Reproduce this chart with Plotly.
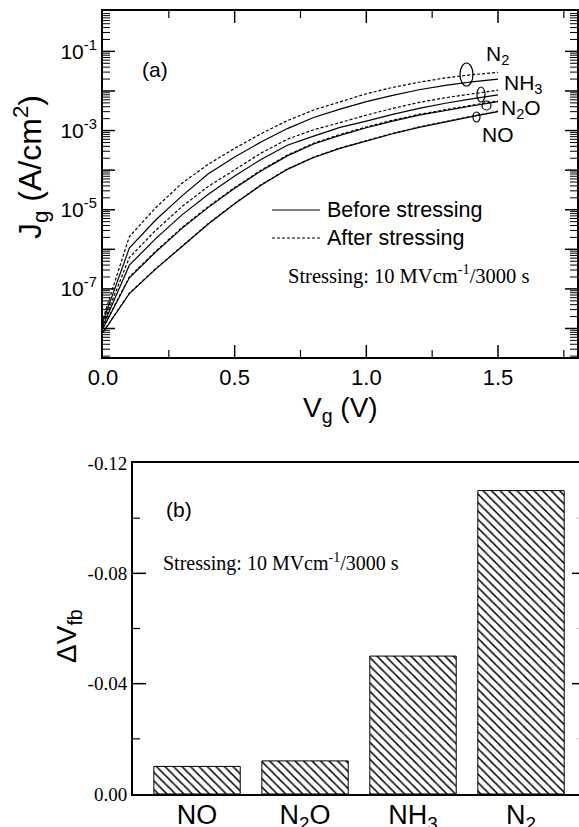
import numpy as np
import plotly.graph_objects as go

W, H = 579, 827

# ---------------- data ----------------
voltage = [0.0, 0.1, 0.2, 0.3, 0.4, 0.5, 0.6, 0.7, 0.8, 0.9, 1.0, 1.1, 1.2, 1.3, 1.4, 1.5]

# log10(Jg)
log_jg_n2_after = [-7.75, -5.68, -4.95, -4.33, -3.85, -3.45, -3.08, -2.75, -2.48, -2.27, -2.07, -1.91, -1.78, -1.67, -1.59, -1.53]
log_jg_n2_before = [-7.82, -5.97, -5.26, -4.65, -4.09, -3.67, -3.29, -2.95, -2.67, -2.46, -2.27, -2.11, -1.97, -1.86, -1.77, -1.70]
log_jg_nh3_after = [-7.88, -6.21, -5.52, -4.92, -4.41, -3.98, -3.57, -3.22, -2.98, -2.80, -2.61, -2.44, -2.29, -2.17, -2.07, -1.98]
log_jg_nh3_before = [-7.93, -6.40, -5.73, -5.13, -4.61, -4.15, -3.73, -3.37, -3.14, -2.92, -2.76, -2.59, -2.44, -2.31, -2.20, -2.10]
log_jg_n2o_after = [-7.98, -6.70, -6.05, -5.45, -4.92, -4.44, -4.00, -3.62, -3.32, -3.10, -2.91, -2.74, -2.59, -2.47, -2.36, -2.25]
log_jg_n2o_before = [-8.00, -6.72, -6.07, -5.47, -4.94, -4.46, -4.02, -3.64, -3.34, -3.12, -2.93, -2.76, -2.61, -2.49, -2.38, -2.27]
log_jg_no_after = [-8.09, -7.11, -6.49, -5.91, -5.35, -4.84, -4.37, -3.97, -3.67, -3.44, -3.25, -3.07, -2.91, -2.77, -2.64, -2.51]
log_jg_no_before = [-8.10, -7.12, -6.50, -5.92, -5.36, -4.85, -4.38, -3.98, -3.68, -3.45, -3.26, -3.08, -2.92, -2.78, -2.65, -2.52]

gases = ["NO", "N<sub>2</sub>O", "NH<sub>3</sub>", "N<sub>2</sub>"]
delta_vfb = [-0.010, -0.012, -0.050, -0.110]

ytick_exponents = [-8, -7, -6, -5, -4, -3, -2, -1, 0]
ytick_labels = ["", "10<sup>-7</sup>", "", "10<sup>-5</sup>", "", "10<sup>-3</sup>", "", "10<sup>-1</sup>", ""]
xtick_vals = [0.0, 0.5, 1.0, 1.5]
xtick_labels = ["0.0", "0.5", "1.0", "1.5"]
x_minor_vals = [0.25, 0.75, 1.25, 1.75]
bar_ytick_vals = [0.0, -0.04, -0.08, -0.12]
bar_ytick_labels = ["0.00", "-0.04", "-0.08", "-0.12"]
bar_minor_vals = [-0.02, -0.06, -0.10]

Y_RANGE_LOG = [-8.72, 0.02]


def X(p):
    return p / W


def Y(p):
    return 1 - p / H


SANS = "Liberation Sans, Arial, sans-serif"
SERIF = "Liberation Serif, Times New Roman, serif"

fig = go.Figure()

curves = [
    (log_jg_n2_after, "dash"), (log_jg_n2_before, "solid"),
    (log_jg_nh3_after, "dash"), (log_jg_nh3_before, "solid"),
    (log_jg_n2o_after, "dash"), (log_jg_n2o_before, "solid"),
    (log_jg_no_after, "dash"), (log_jg_no_before, "solid"),
]
for vals, dash in curves:
    fig.add_trace(go.Scatter(
        x=voltage, y=np.power(10.0, vals), mode="lines",
        line=dict(color="black", width=1.2, dash="3px,2px" if dash == "dash" else "solid"),
        xaxis="x", yaxis="y", showlegend=False, hoverinfo="skip"))

fig.add_trace(go.Bar(
    x=gases, y=delta_vfb, xaxis="x2", yaxis="y2", width=0.8, showlegend=False,
    marker=dict(color="white", line=dict(color="black", width=1),
                pattern=dict(shape="\\", fgcolor="black", bgcolor="white", size=6, solidity=0.25))))

fig.update_layout(
    template="none",
    width=W, height=H, margin=dict(l=0, r=0, t=0, b=0), showlegend=False,
    xaxis=dict(domain=[X(103), X(577)], range=[0, 1.8], anchor="y",
               showline=True, linecolor="black", linewidth=2, mirror=True, ticks="",
               tickmode="array", tickvals=xtick_vals, ticktext=xtick_labels,
               showgrid=False, zeroline=False, automargin=False,
               tickfont=dict(family=SANS, size=22, color="black")),
    yaxis=dict(domain=[Y(357), Y(11)], type="log", range=Y_RANGE_LOG, anchor="x",
               showline=True, linecolor="black", linewidth=2, mirror=True, ticks="",
               tickmode="array", tickvals=[10.0 ** e for e in ytick_exponents], ticktext=ytick_labels,
               showgrid=False, zeroline=False, automargin=False,
               tickfont=dict(family=SANS, size=21, color="black")),
    xaxis2=dict(domain=[X(133), 1.0], type="category", range=[-0.593, 3.537], anchor="y2",
                showline=True, linecolor="black", linewidth=2, mirror=True,
                ticks="", showgrid=False, zeroline=False, automargin=False,
                tickfont=dict(family=SANS, size=27, color="black"), ticklabelstandoff=-4),
    yaxis2=dict(domain=[Y(794), Y(463)], range=[0, -0.12], anchor="x2",
                showline=True, linecolor="black", linewidth=2, ticks="",
                tickmode="array", tickvals=bar_ytick_vals, ticktext=bar_ytick_labels,
                showgrid=False, zeroline=False, automargin=False,
                tickfont=dict(family=SERIF, size=19, color="black")),
)

ann = []


def text(x, y, s, size, family=SANS, xanchor="center", angle=0):
    ann.append(dict(x=X(x), y=Y(y), xref="paper", yref="paper", text=s, showarrow=False,
                    xanchor=xanchor, yanchor="middle", textangle=angle,
                    font=dict(family=family, size=size, color="black")))


text(30, 167, "J<sub>g</sub> (A/cm<sup>2</sup>)", 32, angle=-90)
text(340, 410, "V<sub>g</sub> (V)", 28)
text(155, 69, "(a)", 21)
text(325, 210, "Before stressing", 21.5, xanchor="left")
text(325, 238, "After stressing", 21.5, xanchor="left")
text(286, 275, "Stressing: 10 MVcm<sup>-1</sup>/3000 s", 20.5, family=SERIF, xanchor="left")
text(497, 55, "N<sub>2</sub>", 21)
text(523, 84, "NH<sub>3</sub>", 21)
text(521, 109, "N<sub>2</sub>O", 21)
text(498, 134, "NO", 21)

text(68, 636, "ΔV<sub>fb</sub>", 28, angle=-90)
text(179, 509, "(b)", 21)
text(161, 562, "Stressing: 10 MVcm<sup>-1</sup>/3000 s", 20, family=SERIF, xanchor="left")

fig.update_layout(annotations=ann)

shapes = [
    dict(type="line", xref="paper", yref="paper", x0=X(272), x1=X(320), y0=Y(210), y1=Y(210),
         line=dict(color="black", width=1.2)),
    dict(type="line", xref="paper", yref="paper", x0=X(272), x1=X(320), y0=Y(238), y1=Y(238),
         line=dict(color="black", width=1.2, dash="3px,2px")),
]
for (x0, x1, y0, y1) in [(460, 473, 63, 86), (477, 485, 87, 102), (482, 491, 101, 110), (473, 480, 112, 122)]:
    shapes.append(dict(type="circle", xref="paper", yref="paper", x0=X(x0), x1=X(x1), y0=Y(y1), y1=Y(y0),
                       line=dict(color="black", width=1.2)))


# ---- tick marks, placed through the axes' own scales ----
def xtick(xaxis, yaxis, v, length, width, color="black"):
    # bottom (pointing up) and top (pointing down)
    for anchor, sign in [(0, 1), (1, -1)]:
        shapes.append(dict(type="line", xref=xaxis, yref=yaxis + " domain", x0=v, x1=v,
                           ysizemode="pixel", yanchor=anchor, y0=0, y1=sign * length,
                           line=dict(color=color, width=width)))


def ytick(xaxis, yaxis, v, length, width, sides=((0, 1), (1, -1)), color="black"):
    for anchor, sign in sides:
        shapes.append(dict(type="line", xref=xaxis + " domain", yref=yaxis, y0=v, y1=v,
                           xsizemode="pixel", xanchor=anchor, x0=0, x1=sign * length,
                           line=dict(color=color, width=width)))


for v in xtick_vals[1:]:
    xtick("x", "y", v, 12, 1.5)
for v in x_minor_vals:
    xtick("x", "y", v, 7, 1.2)

lo, hi = 10.0 ** Y_RANGE_LOG[0], 10.0 ** Y_RANGE_LOG[1]
for e in ytick_exponents[:-1]:
    ytick("x", "y", 10.0 ** e, 12, 1.5)
for e in range(-9, 0):
    for k in range(2, 10):
        v = k * 10.0 ** e
        if lo < v < hi:
            ytick("x", "y", v, 7, 1.0)

for v in bar_ytick_vals[1:-1]:
    ytick("x2", "y2", v, 13, 1.5, sides=((0, 1),))
    ytick("x2", "y2", v, 7, 1.5, sides=((1, -1),))
for v in bar_minor_vals:
    ytick("x2", "y2", v, 7, 1.2, sides=((0, 1),))
    ytick("x2", "y2", v, 3, 1.0, sides=((1, -1),), color="#c8c8c8")

fig.update_layout(shapes=shapes)

fig.write_html("out.html")
